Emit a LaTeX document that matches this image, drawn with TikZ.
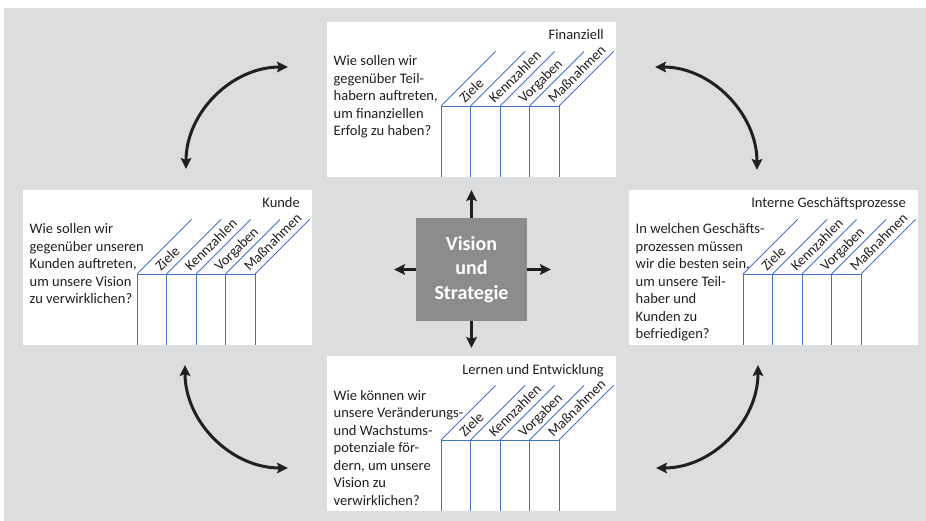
\documentclass[tikz,border=0pt]{standalone}
\usepackage{fontspec}
\setmainfont{Carlito}
\usetikzlibrary{arrows.meta,calc}
\definecolor{bggray}{HTML}{DCDDDE}
\definecolor{tblue}{HTML}{4472C4}
\definecolor{txt}{HTML}{231F20}
\definecolor{ctrgray}{HTML}{8C8C8C}
\tikzset{
  panel/.style={fill=white,draw=none,minimum width=289pt,minimum height=155pt,anchor=north west,inner sep=0pt},
  paneltitle/.style={anchor=base east,inner sep=0pt,text=txt,font=\fontsize{14.5}{17.5}\selectfont},
  paneltext/.style={anchor=base west,inner sep=0pt,text=txt,font=\fontsize{14.5}{17.5}\selectfont},
  tline/.style={draw=tblue,line width=0.9pt},
  collabel/.style={anchor=base west,rotate=45,inner sep=0pt,text=txt,font=\fontsize{14.3}{15}\selectfont},
  centerbox/.style={fill=ctrgray,minimum width=111pt,minimum height=103pt,inner sep=0pt,text=white,align=center,font=\fontsize{20}{24.5}\selectfont\bfseries},
  carrow/.style={draw=txt,line width=3pt,-{Stealth[length=11pt,width=10.5pt,inset=2pt]}},
  darrow/.style={draw=txt,line width=3pt,{Stealth[length=11pt,width=10.5pt,inset=2pt]}-{Stealth[length=11pt,width=10.5pt,inset=2pt]}}
}
\newcommand\bscpanel[5]{%
  \begin{scope}[shift={(#2,#3)}]
    \node[panel] (#1) at (0,0) {};
    \node[paneltitle] (#1-t) at (277,18) {#4};
    \node[paneltext] (#1-q) at (6.5,44) {\begin{tabular}[t]{@{}l@{}}#5\end{tabular}};
    \foreach \i in {0,...,4} {
      \draw[tline] (114+29.5*\i,84) -- (114+29.5*\i,155);
      \draw[tline] (114+29.5*\i,84) -- ++(54.5,-54.5);
    }
    \draw[tline] (114,84) -- (232,84);
    \foreach \lab [count=\i from 0] in {Ziele,Kennzahlen,Vorgaben,Maßnahmen}
      \node[collabel] (#1-l\i) at (114+29.5*\i+24,82) {\lab};
  \end{scope}}
\begin{document}
\begin{tikzpicture}[x=1pt,y=-1pt]
\useasboundingbox (0,0) rectangle (926,521);
\fill[bggray] (4,8) rectangle (926,521);
\bscpanel{fin}{327}{22}{Finanziell}{Wie sollen wir\\gegenüber Teil-\\habern auftreten,\\um finanziellen\\Erfolg zu haben?}
\bscpanel{kun}{23}{190}{Kunde}{Wie sollen wir\\gegenüber unseren\\Kunden auftreten,\\um unsere Vision\\zu verwirklichen?}
\bscpanel{int}{629}{190}{Interne Geschäftsprozesse}{In welchen Geschäfts-\\prozessen müssen\\wir die besten sein,\\um unsere Teil-\\haber und\\Kunden zu\\befriedigen?}
\bscpanel{ler}{327}{356}{Lernen und Entwicklung}{Wie können wir\\unsere Veränderungs-\\und Wachstums-\\potenziale för-\\dern, um unsere\\Vision zu\\verwirklichen?}
\node[centerbox] (vis) at (471.5,269.5) {Vision\\und\\Strategie};
\coordinate (vu) at (471.5,190);
\coordinate (vd) at (471.5,348);
\coordinate (vl) at (394,269.5);
\coordinate (vr) at (551,269.5);
\draw[carrow] (vis.north) -- (vu);
\draw[carrow] (vis.south) -- (vd);
\draw[carrow] (vis.west) -- (vl);
\draw[carrow] (vis.east) -- (vr);
\coordinate (tlA) at (186,169); \coordinate (tlB) at (288,67);
\coordinate (trA) at (655,67); \coordinate (trB) at (757,170);
\coordinate (blA) at (185,365); \coordinate (blB) at (288,468);
\coordinate (brA) at (758,365); \coordinate (brB) at (656,468);
\draw[darrow] (tlA) .. controls (186,112.7) and (231.7,67) .. (tlB);
\draw[darrow] (trA) .. controls (711.3,67) and (757,113.7) .. (trB);
\draw[darrow] (blA) .. controls (185,421.9) and (231.1,468) .. (blB);
\draw[darrow] (brA) .. controls (758,421.6) and (712.3,468) .. (brB);
\end{tikzpicture}
\end{document}
